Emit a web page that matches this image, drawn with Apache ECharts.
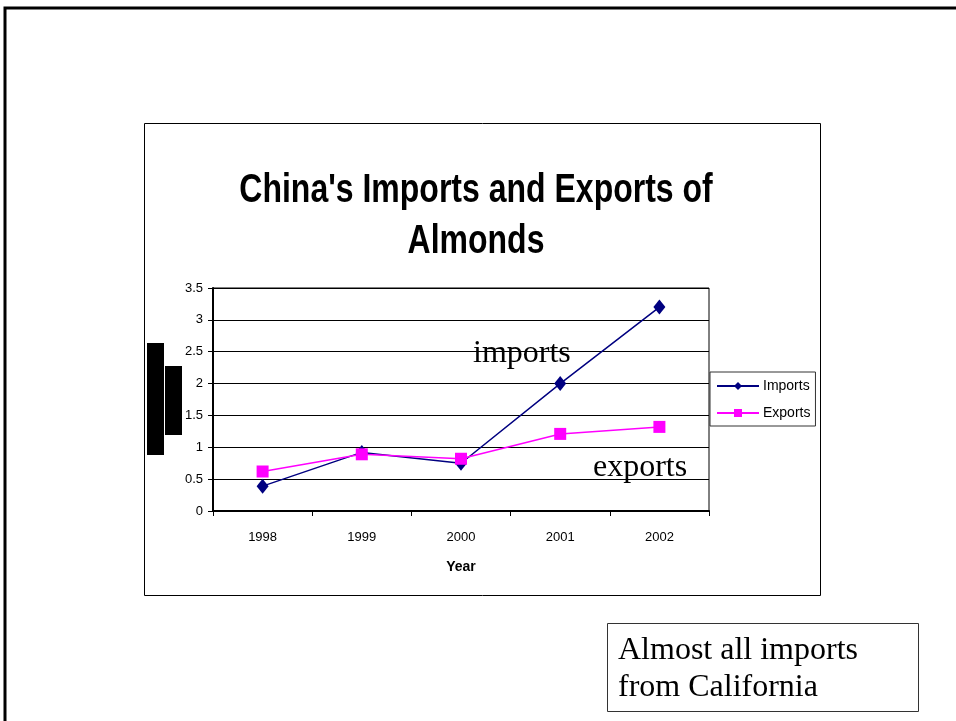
<!DOCTYPE html>
<html><head><meta charset="utf-8">
<script src="https://cdn.jsdelivr.net/npm/echarts@6/dist/echarts.min.js"></script>
<style>html,body{margin:0;padding:0;background:#fff}#c{width:956px;height:721px}</style>
</head><body><div id="c"></div>
<script>
const years = ['1998','1999','2000','2001','2002'];
const imports = [0.39, 0.92, 0.75, 2.0, 3.2];
const exports_ = [0.62, 0.89, 0.82, 1.21, 1.32];
const yTicks = { min: 0, max: 3.5, interval: 0.5 };
const titleLines = ["China's Imports and Exports of", 'Almonds'];

const chart = echarts.init(document.getElementById('c'));
const sans = 'Arial, "Liberation Sans", sans-serif';
const serif = '"Times New Roman", "Liberation Serif", serif';
chart.setOption({
  animation: false,
  backgroundColor: '#fff',
  grid: { left: 213, right: 247, top: 288, bottom: 210, show: true, borderColor: '#000', borderWidth: 1 },
  legend: {
    orient: 'vertical', left: 710, top: 372,
    data: ['Imports', 'Exports'],
    borderColor: '#333', borderWidth: 1, padding: [7, 5, 6, 6],
    itemGap: 13, itemWidth: 42, itemHeight: 10,
    textStyle: { fontFamily: sans, fontSize: 14, color: '#000', padding: [0, 0, 0, -1] }
  },
  xAxis: {
    type: 'category', data: years, boundaryGap: true,
    name: 'Year', nameLocation: 'middle', nameGap: 49,
    nameTextStyle: { fontFamily: sans, fontWeight: 'bold', fontSize: 14, color: '#000' },
    axisLine: { lineStyle: { color: '#000', width: 2 } },
    axisTick: { show: true, inside: false, length: 5, lineStyle: { color: '#000' } },
    axisLabel: { fontFamily: sans, fontSize: 13, color: '#000', margin: 20 },
    splitLine: { show: false }
  },
  yAxis: {
    type: 'value', min: yTicks.min, max: yTicks.max, interval: yTicks.interval,
    axisLine: { show: true, lineStyle: { color: '#000', width: 2 } },
    axisTick: { show: true, length: 5, lineStyle: { color: '#000' } },
    axisLabel: { fontFamily: sans, fontSize: 13, color: '#000', margin: 10 },
    splitLine: { show: true, lineStyle: { color: '#000', width: 1 } }
  },
  series: [
    { name: 'Imports', type: 'line', data: imports, color: '#000080',
      symbol: 'diamond', symbolSize: [12, 15], lineStyle: { color: '#000080', width: 1.5 },
      itemStyle: { color: '#000080' } },
    { name: 'Exports', type: 'line', data: exports_, color: '#ff00ff',
      symbol: 'rect', symbolSize: 12, lineStyle: { color: '#ff00ff', width: 1.5 },
      itemStyle: { color: '#ff00ff' } }
  ],
  graphic: [
    { type: 'polyline', shape: { points: [[5, 721], [5, 8], [956, 8]] }, style: { stroke: '#000', lineWidth: 3, fill: null }, z: 10 },
    { type: 'rect', shape: { x: 144.5, y: 123.5, width: 676, height: 472 }, style: { stroke: '#000', lineWidth: 1, fill: null }, z: -1 },
    { type: 'text', x: 476, y: 171, scaleX: 0.8, style: { text: titleLines[0], font: 'bold 40px ' + sans, textAlign: 'center', textVerticalAlign: 'top', fill: '#000' }, z: 10 },
    { type: 'text', x: 476, y: 222, scaleX: 0.8, style: { text: titleLines[1], font: 'bold 40px ' + sans, textAlign: 'center', textVerticalAlign: 'top', fill: '#000' }, z: 10 },
    { type: 'rect', shape: { x: 147, y: 343, width: 17, height: 112 }, style: { fill: '#000' }, z: 10 },
    { type: 'rect', shape: { x: 165, y: 366, width: 17, height: 69 }, style: { fill: '#000' }, z: 10 },
    { type: 'text', left: 473, top: 338, style: { text: 'imports', font: '32px ' + serif, fill: '#000' }, z: 10 },
    { type: 'text', left: 593, top: 452, style: { text: 'exports', font: '32px ' + serif, fill: '#000' }, z: 10 },
    { type: 'rect', shape: { x: 607.5, y: 623.5, width: 311, height: 88 }, style: { stroke: '#333', lineWidth: 1, fill: '#fff' }, z: 10 },
    { type: 'text', left: 618, top: 632, style: { text: 'Almost all imports\nfrom California', font: '32px ' + serif, lineHeight: 37, fill: '#000' }, z: 11 }
  ]
});
</script></body></html>
